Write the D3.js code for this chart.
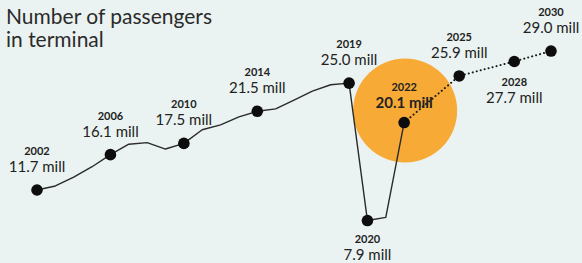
<!DOCTYPE html>
<html>
<head>
<meta charset="utf-8">
<script src="https://cdn.jsdelivr.net/npm/d3@7"></script>
<style>
  body { margin: 0; background: #eaf3f1; }
  svg { display: block; font-family: Lato, "Open Sans", sans-serif; }
</style>
</head>
<body>
<div class="chart"></div>
<script>
// actual traffic, one point per year
const years = [2002, 2003, 2004, 2005, 2006, 2007, 2008, 2009, 2010, 2011, 2012,
    2013, 2014, 2015, 2016, 2017, 2018, 2019, 2020, 2021, 2022];
const passengers = [11.7, 12.2, 13.3, 14.6, 16.1, 17.4, 17.6, 16.8, 17.5, 19.2, 19.8,
    20.8, 21.5, 21.8, 22.9, 24.0, 24.8, 25.0, 7.9, 8.3, 20.1];

// forecast
const forecastYears = [2022, 2025, 2028, 2030];
const forecastValues = [20.1, 25.9, 27.7, 29.0];

// labelled points
const labelYears = [2002, 2006, 2010, 2014, 2019, 2020, 2022, 2025, 2028, 2030];
const labelValues = [11.7, 16.1, 17.5, 21.5, 25.0, 7.9, 20.1, 25.9, 27.7, 29.0];

const title = ["Number of passengers", "in terminal"];

var width = 582,
    height = 263;

var svg = d3.select('.chart')
    .append('svg')
    .attr("width", width)
    .attr("height", height);

var x = d3.scaleLinear()
    .domain([2002, 2030])
    .range([37, 551]);

var y = d3.scaleLinear()
    .domain([0, 30])
    .range([284, 43]);

// label offsets (year, value) relative to the dot
var offsets = {
    2020: [22, 39],
    2028: [25, 42],
    2022: [-32, -15]
};
var getOff = function (d) {
    return offsets[d] || [-35, -18];
};

var line = d3.line()
    .x(function (d) { return x(d[0]); })
    .y(function (d) { return y(d[1]); });

// highlight circle behind 2022
svg.append("circle")
    .attr("cx", x(2022) + 1)
    .attr("cy", y(20.1) - 12)
    .attr("r", 52)
    .style("fill", "#f8aa37");

svg.append("path")
    .datum(years.map(function (d, i) { return [d, passengers[i]]; }))
    .attr("d", line)
    .style("fill", "none")
    .style("stroke", "#2a2a2a")
    .style("stroke-width", 1.4)
    .style("stroke-linejoin", "round");

svg.append("path")
    .datum(forecastYears.map(function (d, i) { return [d, forecastValues[i]]; }))
    .attr("d", line)
    .style("fill", "none")
    .style("stroke", "#1a1a1a")
    .style("stroke-width", 2)
    .style("stroke-linecap", "round")
    .style("stroke-dasharray", "0.1,4");

svg.selectAll(".dot")
    .data(labelYears)
    .enter()
    .append("circle")
    .attr("class", "dot")
    .attr("cx", function (d) { return x(d); })
    .attr("cy", function (d, i) { return y(labelValues[i]); })
    .attr("r", 5.8)
    .style("fill", "#0d0d0d");

var labels = svg.selectAll(".lab")
    .data(labelYears)
    .enter()
    .append("g")
    .attr("class", "lab")
    .attr("transform", function (d, i) {
        return "translate(" + x(d) + "," + y(labelValues[i]) + ")";
    });

labels.append("text")
    .attr("text-anchor", "middle")
    .attr("y", function (d) { return getOff(d)[0]; })
    .style("font-size", "11px")
    .style("font-weight", "bold")
    .style("fill", "#222")
    .text(function (d) { return d; });

labels.append("text")
    .attr("text-anchor", "middle")
    .attr("y", function (d) { return getOff(d)[1]; })
    .style("font-size", "15px")
    .style("font-weight", function (d) { return d == 2022 ? "bold" : "normal"; })
    .style("fill", "#222")
    .text(function (d, i) { return labelValues[i].toFixed(1) + " mill"; });

svg.selectAll(".title")
    .data(title)
    .enter()
    .append("text")
    .attr("class", "title")
    .attr("x", 6)
    .attr("y", function (d, i) { return 24 + i * 23; })
    .style("font-size", "21px")
    .style("fill", "#2b2b2b")
    .text(function (d) { return d; });
</script>
</body>
</html>
